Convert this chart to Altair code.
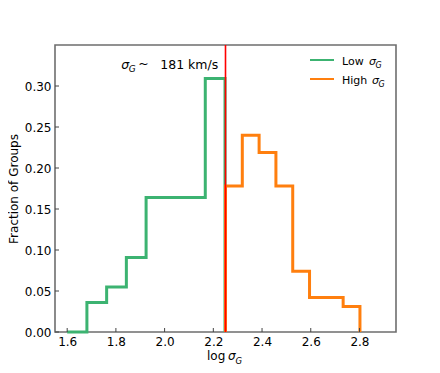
import altair as alt
import pandas as pd

# ---- data ----
low_edges = [1.600, 1.681, 1.762, 1.843, 1.924, 2.005, 2.086, 2.167, 2.248]
low_vals = [0.0, 0.036, 0.055, 0.091, 0.164, 0.164, 0.164, 0.309]
high_edges = [2.250, 2.319, 2.388, 2.457, 2.526, 2.595, 2.664, 2.733, 2.802]
high_vals = [0.178, 0.240, 0.219, 0.178, 0.074, 0.042, 0.042, 0.031]
split_value = [2.25]
x_ticks = [1.6, 1.8, 2.0, 2.2, 2.4, 2.6, 2.8]
y_ticks = [0.00, 0.05, 0.10, 0.15, 0.20, 0.25, 0.30]
annot_pos = [1.822, 0.3207]
series_names = ["Low", "High"]
series_colors = ["#3cb371", "#ff7f0e"]

W, H = 341, 287
FONT = "DejaVu Sans"


def step_points(edges, vals, name, start_zero):
    rows = []
    k = 0
    if start_zero:
        rows.append({"x": edges[0], "y": 0.0, "s": name, "o": k}); k += 1
    for e, v in zip(edges[:-1], vals):
        rows.append({"x": e, "y": v, "s": name, "o": k}); k += 1
    rows.append({"x": edges[-1], "y": 0.0, "s": name, "o": k})
    return rows


steps = pd.DataFrame(step_points(low_edges, low_vals, "Low", False)
                     + step_points(high_edges, high_vals, "High", True))

xs = alt.Scale(domain=[1.55, 2.95], nice=False, zero=False)
ys = alt.Scale(domain=[0, 0.35], nice=False)

lines = alt.Chart(steps).mark_line(interpolate="step-after", strokeWidth=3).encode(
    x=alt.X("x:Q", scale=xs,
            axis=alt.Axis(values=x_ticks, format=".1f", ticks=False, domain=False,
                          grid=False, labelPadding=4, labelFontSize=12,
                          labelFont=FONT, labelColor="black", title=None)),
    y=alt.Y("y:Q", scale=ys,
            axis=alt.Axis(values=y_ticks, format=".2f", ticks=False, domain=False,
                          grid=False, labelPadding=4, labelFontSize=12,
                          labelFont=FONT, labelColor="black",
                          title="Fraction of Groups", titleFont=FONT,
                          titleFontSize=12, titleFontWeight="normal",
                          titleColor="black", titlePadding=4)),
    color=alt.Color("s:N", scale=alt.Scale(domain=series_names, range=series_colors),
                    legend=None),
    detail="s:N",
    order="o:Q",
)

red = alt.Chart(pd.DataFrame({"v": split_value})).mark_rule(
    color="#ff0000", strokeWidth=1.6).encode(
    x=alt.X("v:Q", scale=xs), y=alt.value(0), y2=alt.value(H))

xt = alt.Chart(pd.DataFrame({"t": x_ticks})).mark_rule(color="#444", strokeWidth=1).encode(
    x=alt.X("t:Q", scale=xs), y=alt.value(H), y2=alt.value(H - 4))
yt = alt.Chart(pd.DataFrame({"t": y_ticks})).mark_rule(color="#444", strokeWidth=1).encode(
    y=alt.Y("t:Q", scale=ys), x=alt.value(0), x2=alt.value(4))


def ptext(txt, px, py, size=12, italic=False, color="black"):
    kw = dict(fontSize=size, font=FONT, color=color, align="left", baseline="alphabetic")
    if italic:
        kw["fontStyle"] = "italic"
    return alt.Chart(pd.DataFrame({"t": [txt]})).mark_text(**kw).encode(
        x=alt.value(px), y=alt.value(py), text="t:N")


def dtext(txt, dx, dy, size=12.5, italic=False):
    kw = dict(fontSize=size, font=FONT, color="black", align="left",
              baseline="alphabetic", dx=dx, dy=dy)
    if italic:
        kw["fontStyle"] = "italic"
    return alt.Chart(pd.DataFrame({"x": [annot_pos[0]], "y": [annot_pos[1]], "t": [txt]})
                     ).mark_text(**kw).encode(
        x=alt.X("x:Q", scale=xs), y=alt.Y("y:Q", scale=ys), text="t:N")


annot = [
    dtext("σ", 0, 0, italic=True),
    dtext("G", 7.5, 2.5, size=9, italic=True),
    dtext("~", 17, -1),
    dtext("181 km/s", 39, 0),
]

xtitle = [
    ptext("log", 152, 315),
    ptext("σ", 173, 315, italic=True),
    ptext("G", 180.5, 319, size=8.5, italic=True),
]


def legline(py, color):
    return alt.Chart(pd.DataFrame({"a": [0]})).mark_rule(color=color, strokeWidth=2).encode(
        x=alt.value(255), x2=alt.value(279), y=alt.value(py))


legend = [
    legline(15, series_colors[0]),
    legline(34, series_colors[1]),
    ptext("Low", 287, 19.5, size=11),
    ptext("σ", 314, 19.5, size=11, italic=True),
    ptext("G", 320.5, 22.5, size=8, italic=True),
    ptext("High", 287, 38.5, size=11),
    ptext("σ", 317, 38.5, size=11, italic=True),
    ptext("G", 323.5, 41.5, size=8, italic=True),
]

chart = alt.layer(lines, red, xt, yt, *annot, *xtitle, *legend).properties(
    width=W, height=H,
    background="white",
    autosize=alt.AutoSizeParams(type="none"),
    padding={"left": 47, "top": 37, "right": 34, "bottom": 33},
).configure_view(stroke="#6e6e6e", strokeWidth=1.6)

chart.save("out.html", embed_options={"renderer": "svg", "actions": False})
